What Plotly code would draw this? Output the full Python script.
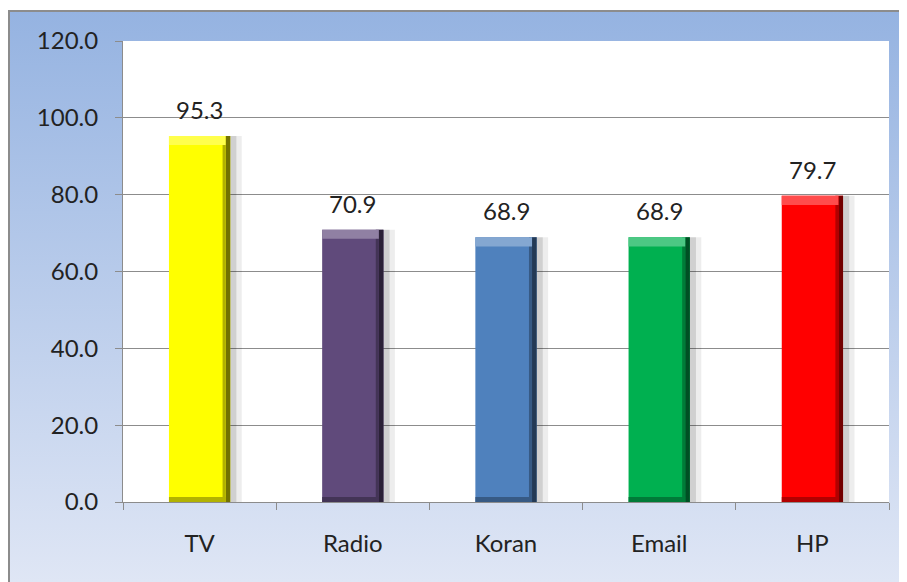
import base64
import plotly.graph_objects as go

categories = ["TV", "Radio", "Koran", "Email", "HP"]
values = [95.3, 70.9, 68.9, 68.9, 79.7]
colors = ["#ffff00", "#604a7b", "#4f81bd", "#00b050", "#ff0000"]
y_ticks = [0, 20, 40, 60, 80, 100, 120]

# page body has an 8px margin; work in figure coordinates
OFF = 8
W, H = 907 - OFF, 582 - OFF
ML, MT = 123 - OFF, 41 - OFF
PR, PB = 889 - OFF, 502 - OFF
MR, MB = W - PR, H - PB
PW, PH = PR - ML, PB - MT

FONT = "Lato"
FS = 24


def mix(c, t, f):
    c = c.lstrip("#")
    r, g, b = int(c[0:2], 16), int(c[2:4], 16), int(c[4:6], 16)
    r = round(r + (t[0] - r) * f)
    g = round(g + (t[1] - g) * f)
    b = round(b + (t[2] - b) * f)
    return f"rgb({r},{g},{b})"


light = [mix(c, (255, 255, 255), 0.3) for c in colors]
dark = [mix(c, (0, 0, 0), 0.55) for c in colors]
darker = [mix(c, (0, 0, 0), 0.3) for c in colors]

BW = 0.40
fig = go.Figure()
# soft shadow to the right
fig.add_trace(go.Bar(x=categories, y=values, width=0.085, offset=BW / 2 - 0.01,
                     marker=dict(color="rgba(0,0,0,0.07)", line_width=0), hoverinfo="skip"))
fig.add_trace(go.Bar(x=categories, y=values, width=0.05, offset=BW / 2 - 0.01,
                     marker=dict(color="rgba(0,0,0,0.12)", line_width=0), hoverinfo="skip"))
# main bars
fig.add_trace(go.Bar(x=categories, y=values, width=BW, offset=-BW / 2,
                     marker=dict(color=colors, line_width=0)))
# right bevel
fig.add_trace(go.Bar(x=categories, y=values, width=0.03, offset=BW / 2 - 0.03,
                     marker=dict(color=dark, line_width=0), hoverinfo="skip"))
fig.add_trace(go.Bar(x=categories, y=values, width=0.02, offset=BW / 2 - 0.05,
                     marker=dict(color=darker, line_width=0), hoverinfo="skip"))
# top bevel
fig.add_trace(go.Bar(x=categories, y=[2.4] * len(values), base=[v - 2.4 for v in values],
                     width=BW - 0.03, offset=-BW / 2,
                     marker=dict(color=light, line_width=0), hoverinfo="skip"))
# bottom bevel
fig.add_trace(go.Bar(x=categories, y=[1.3] * len(values), base=[0] * len(values),
                     width=BW - 0.03, offset=-BW / 2,
                     marker=dict(color=darker, line_width=0), hoverinfo="skip"))

for c, v in zip(categories, values):
    fig.add_annotation(x=c, y=v, text=f"{v:.1f}", showarrow=False, yanchor="bottom",
                       yshift=10, font=dict(family=FONT, size=FS, color="#222222"))

svg = ('<svg xmlns="http://www.w3.org/2000/svg" width="10" height="100" preserveAspectRatio="none">'
       '<defs><linearGradient id="g" x1="0" y1="0" x2="0" y2="1">'
       '<stop offset="0" stop-color="#95b3e1"/><stop offset="1" stop-color="#dfe6f5"/>'
       '</linearGradient></defs><rect width="10" height="100" fill="url(#g)"/></svg>')
uri = "data:image/svg+xml;base64," + base64.b64encode(svg.encode()).decode()


def px(xp):
    return (xp - ML) / PW


def py(yp):
    return 1 - (yp - MT) / PH


BX, BY = 0, 3
fig.add_layout_image(source=uri, xref="paper", yref="paper", x=px(BX), y=py(BY),
                     sizex=px(W) - px(BX), sizey=py(BY) - py(H), xanchor="left", yanchor="top",
                     sizing="stretch", layer="below")
fig.add_shape(type="rect", xref="paper", yref="paper", x0=0, x1=1, y0=0, y1=1,
              fillcolor="white", line_width=0, layer="below")
fig.add_shape(type="line", xref="paper", yref="paper", x0=px(BX), x1=px(W), y0=py(BY), y1=py(BY),
              line=dict(color="#8c8c8c", width=2), layer="below")
fig.add_shape(type="line", xref="paper", yref="paper", x0=px(BX + 1), x1=px(BX + 1), y0=py(BY), y1=py(H),
              line=dict(color="#8c8c8c", width=2), layer="below")

fig.update_layout(
    width=W, height=H,
    margin=dict(l=ML, r=MR, t=MT, b=MB),
    paper_bgcolor="white", plot_bgcolor="rgba(0,0,0,0)",
    barmode="overlay", showlegend=False,
    font=dict(family=FONT, size=FS, color="#222222"),
)
fig.update_xaxes(type="category", tickson="boundaries", ticks="outside", ticklen=7,
                 tickcolor="#8c8c8c", showline=True, linecolor="#8c8c8c", linewidth=1,
                 showgrid=False, ticklabelstandoff=20, tickfont=dict(size=FS, family=FONT))
fig.update_yaxes(range=[0, 120], tickvals=y_ticks, tickformat=".1f", ticks="outside", ticklen=7,
                 tickcolor="#8c8c8c", showline=True, linecolor="#8c8c8c", linewidth=1,
                 showgrid=True, gridcolor="#8c8c8c", gridwidth=1, zeroline=False,
                 ticklabelstandoff=12, tickfont=dict(size=FS, family=FONT))

fig.write_html("out.html")
